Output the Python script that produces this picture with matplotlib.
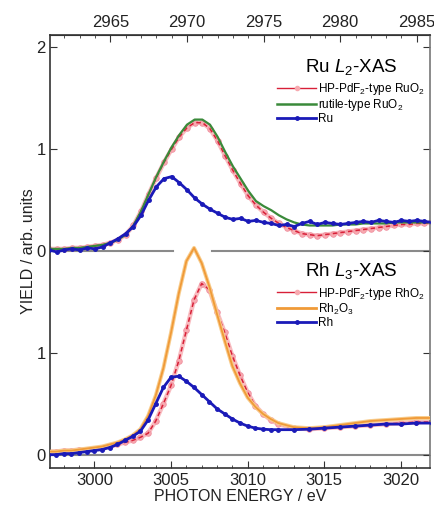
import numpy as np
import matplotlib
matplotlib.use('Agg')
import matplotlib.pyplot as plt
from matplotlib.lines import Line2D
from matplotlib.ticker import MultipleLocator, FixedLocator

plt.rcParams['font.family'] = ['Liberation Sans', 'DejaVu Sans']
plt.rcParams['mathtext.fontset'] = 'custom'
plt.rcParams['mathtext.rm'] = 'Liberation Sans'
plt.rcParams['mathtext.it'] = 'Liberation Sans:italic'
plt.rcParams['mathtext.default'] = 'regular'

# decalage entre les deux echelles d'energie (Rh L3 en bas, Ru L2 en haut)
SHIFT = 36.04
OFFSET_RU = 2.0

# Ru L2 (axe du haut)
ru_e = np.arange(2961.0, 2986.01, 0.5)
ru_metal = [0.01, -0.01, 0.01, 0.02, 0.01, 0.03, 0.02, 0.04, 0.08, 0.12,
            0.17, 0.24, 0.35, 0.50, 0.63, 0.71, 0.73, 0.67, 0.60, 0.52,
            0.46, 0.41, 0.37, 0.33, 0.31, 0.32, 0.29, 0.30, 0.28, 0.27,
            0.25, 0.26, 0.24, 0.27, 0.29, 0.26, 0.28, 0.27, 0.26, 0.27,
            0.28, 0.29, 0.28, 0.30, 0.29, 0.28, 0.30, 0.29, 0.30, 0.29, 0.28]
ru_hp = [0.02, 0.02, 0.02, 0.03, 0.03, 0.04, 0.05, 0.06, 0.08, 0.11,
         0.16, 0.25, 0.39, 0.56, 0.72, 0.87, 1.00, 1.12, 1.21, 1.26,
         1.26, 1.20, 1.08, 0.93, 0.79, 0.66, 0.54, 0.45, 0.38, 0.32,
         0.27, 0.23, 0.20, 0.17, 0.16, 0.15, 0.16, 0.17, 0.18, 0.19,
         0.20, 0.21, 0.22, 0.23, 0.24, 0.25, 0.26, 0.26, 0.27, 0.27, 0.28]
ru_rutile = [0.02, 0.02, 0.02, 0.03, 0.03, 0.04, 0.05, 0.06, 0.08, 0.11,
             0.16, 0.25, 0.39, 0.56, 0.73, 0.88, 1.02, 1.14, 1.24, 1.29,
             1.29, 1.24, 1.12, 0.97, 0.83, 0.71, 0.59, 0.49, 0.44, 0.40,
             0.35, 0.31, 0.28, 0.26, 0.25, 0.25, 0.25, 0.25, 0.26, 0.26,
             0.26, 0.27, 0.27, 0.27, 0.27, 0.28, 0.28, 0.28, 0.28, 0.28, 0.28]

# Rh L3 (axe du bas)
rh_e = [2997, 2997.5, 2998, 2998.5, 2999, 2999.5, 3000, 3000.5, 3001, 3001.5,
        3002, 3002.5, 3003, 3003.5, 3004, 3004.5, 3005, 3005.5, 3006, 3006.5,
        3007, 3007.5, 3008, 3008.5, 3009, 3009.5, 3010, 3010.5, 3011, 3011.5,
        3012, 3013, 3014, 3015, 3016, 3017, 3018, 3019, 3020, 3021, 3022]
rh_metal = [0.00, 0.00, 0.01, 0.01, 0.02, 0.03, 0.04, 0.05, 0.07, 0.10,
            0.14, 0.18, 0.23, 0.34, 0.50, 0.66, 0.76, 0.77, 0.72, 0.66,
            0.59, 0.52, 0.45, 0.40, 0.35, 0.31, 0.28, 0.26, 0.25, 0.245,
            0.245, 0.245, 0.25, 0.26, 0.27, 0.28, 0.29, 0.30, 0.30, 0.31, 0.31]
rh_hp = [0.03, 0.03, 0.04, 0.04, 0.05, 0.05, 0.06, 0.07, 0.08, 0.10,
         0.12, 0.14, 0.17, 0.21, 0.33, 0.50, 0.68, 0.92, 1.22, 1.52,
         1.68, 1.62, 1.40, 1.20, 0.97, 0.78, 0.61, 0.48, 0.40, 0.34,
         0.30, 0.26, 0.25, 0.26, 0.27, 0.28, 0.29, 0.30, 0.31, 0.32, 0.32]
rh_rh2o3 = [0.03, 0.03, 0.04, 0.04, 0.05, 0.06, 0.07, 0.08, 0.10, 0.12,
            0.15, 0.19, 0.25, 0.38, 0.58, 0.85, 1.20, 1.58, 1.90, 2.03,
            1.88, 1.65, 1.38, 1.12, 0.87, 0.70, 0.56, 0.47, 0.40, 0.35,
            0.31, 0.27, 0.26, 0.27, 0.29, 0.31, 0.33, 0.34, 0.35, 0.36, 0.36]

BLUE = '#1a1ab8'
PINK = '#f7aab0'
RED = '#d82038'
GREEN = '#3a8a3a'
ORANGE = '#f09a38'
ORANGE_LIGHT = '#f8cc8c'
GRAY = '#8a8a8a'

fig = plt.figure(figsize=(4.35, 5.08), dpi=100)
ax = fig.add_axes([0.115, 0.079, 0.8735, 0.852])

ax.set_xlim(2997.1, 3021.9)
ax.set_ylim(-0.13, 4.12)

# lignes de base
ax.axhline(0, color=GRAY, lw=1.5, zorder=1)
ax.plot([2997.1, 3005.1], [OFFSET_RU, OFFSET_RU], color=GRAY, lw=1.5, zorder=1)
ax.plot([3007.7, 3021.9], [OFFSET_RU, OFFSET_RU], color=GRAY, lw=1.5, zorder=1)


def trace_hp(x, y):
    # points roses + tirets rouges
    ax.plot(x, y, color=PINK, lw=3.2, alpha=0.8, zorder=2)
    ax.plot(x, y, ls='none', marker='o', ms=4, mfc=PINK, mec='#f090a0', mew=0.6, zorder=2)
    ax.plot(x, y, color=RED, lw=1.1, dashes=(3, 2), zorder=3)


# panneau du haut : Ru
ru_x = ru_e + SHIFT
trace_hp(ru_x, np.array(ru_hp) + OFFSET_RU)
ax.plot(ru_x, np.array(ru_rutile) + OFFSET_RU, color=GREEN, lw=1.6, zorder=4)
ax.plot(ru_x, np.array(ru_metal) + OFFSET_RU, color=BLUE, lw=2.0,
        marker='o', ms=2.5, zorder=5)

# panneau du bas : Rh
trace_hp(rh_e, rh_hp)
ax.plot(rh_e, rh_rh2o3, color=ORANGE_LIGHT, lw=2.8, zorder=3)
ax.plot(rh_e, rh_rh2o3, color=ORANGE, lw=1.3, zorder=3)
ax.plot(rh_e, rh_metal, color=BLUE, lw=2.0, marker='o', ms=2.5, zorder=5)

# axes
for side in ['left', 'bottom', 'top']:
    ax.spines[side].set_color('#333333')
    ax.spines[side].set_linewidth(1.2)
ax.spines['right'].set_color('#777777')
ax.spines['right'].set_linewidth(1.2)

ax.yaxis.set_major_locator(FixedLocator([0, 1, 2, 3, 4]))
ax.set_yticklabels(['0', '1', '0', '1', '2'])
ax.xaxis.set_major_locator(MultipleLocator(5))
ax.xaxis.set_minor_locator(MultipleLocator(1))
ax.tick_params(axis='both', which='both', direction='in', labelsize=12,
               color='#333333', labelcolor='#222222')
ax.tick_params(axis='x', which='major', length=5, top=False)
ax.tick_params(axis='x', which='minor', length=2.5, top=False)
ax.tick_params(axis='y', which='major', length=5, right=True, pad=3)

top = ax.secondary_xaxis('top', functions=(lambda x: x - SHIFT, lambda x: x + SHIFT))
top.xaxis.set_major_locator(MultipleLocator(5))
top.xaxis.set_minor_locator(MultipleLocator(1))
top.tick_params(which='both', direction='in', labelsize=12, color='#333333',
                labelcolor='#222222')
top.tick_params(which='major', length=5)
top.tick_params(which='minor', length=2.5)
top.spines['top'].set_color('#333333')

ax.set_xlabel('PHOTON ENERGY / eV', fontsize=11.5, labelpad=1, color='#222222')
ax.set_ylabel('YIELD / arb. units', fontsize=11.5, labelpad=0, color='#222222')

# legendes
h_hp = Line2D([], [], color=RED, lw=1.0, marker='o', ms=3, mfc=PINK, mec=PINK)
h_green = Line2D([], [], color=GREEN, lw=1.8)
h_blue = Line2D([], [], color=BLUE, lw=2.0, marker='o', ms=2.5)
h_orange = Line2D([], [], color=ORANGE, lw=2.0)

opts = dict(title_fontsize=13.5, fontsize=8.5, loc='upper right', frameon=False,
            handlelength=3.3, handletextpad=0.1, labelspacing=0.0,
            borderaxespad=0, numpoints=1, borderpad=0)
leg1 = ax.legend([h_hp, h_green, h_blue],
                 ['HP-PdF$_2$-type RuO$_2$', 'rutile-type RuO$_2$', 'Ru'],
                 title='Ru $\\mathit{L}_2$-XAS', bbox_to_anchor=(0.985, 0.95), **opts)
leg1._legend_box.sep = 3
ax.add_artist(leg1)
leg2 = ax.legend([h_hp, h_orange, h_blue],
                 ['HP-PdF$_2$-type RhO$_2$', 'Rh$_2$O$_3$', 'Rh'],
                 title='Rh $\\mathit{L}_3$-XAS', bbox_to_anchor=(0.985, 0.477), **opts)
leg2._legend_box.sep = 3

fig.savefig('out.png', dpi=100)
